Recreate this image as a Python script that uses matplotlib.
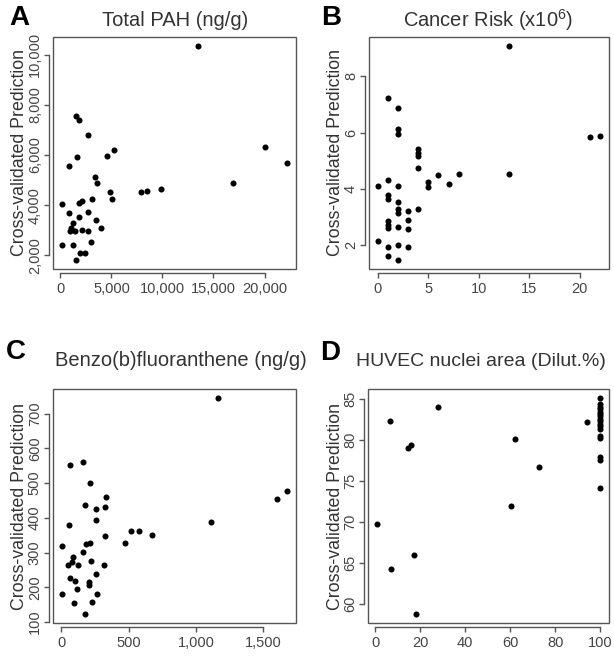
import numpy as np
import matplotlib
matplotlib.use('Agg')
import matplotlib.pyplot as plt
from matplotlib.patches import Rectangle
from matplotlib.ticker import FuncFormatter

plt.rcParams['font.family'] = ['Liberation Sans', 'DejaVu Sans']
plt.rcParams['mathtext.fontset'] = 'custom'
plt.rcParams['mathtext.rm'] = 'Liberation Sans'

# panel A: total PAH
pah_obs = [13500, 1520, 1850, 2750, 880, 1620, 4540, 5220, 3370, 3570, 4830, 5030,
           7910, 8490, 9860, 160, 1850, 2110, 3080, 2660, 810, 1780, 3500, 4020,
           1260, 1040, 970, 1430, 2080, 2750, 2980, 160, 1260, 1880, 2460, 1490,
           16900, 20000, 22200]
pah_pred = [10370, 7560, 7400, 6810, 5570, 5930, 5960, 6210, 5130, 4880, 4510, 4250,
            4510, 4570, 4650, 4030, 4080, 4150, 4230, 3720, 3670, 3520, 3410, 3090,
            3270, 3090, 2970, 2970, 3010, 2960, 2530, 2410, 2400, 2090, 2090, 1790,
            4900, 6330, 5680]

# panel B: cancer risk
risk_obs = [13, 1, 2, 2, 2, 4, 4, 4, 4, 6, 8, 5, 5, 7, 0, 1, 2, 1, 1, 2, 2, 2, 3, 4,
            3, 1, 1, 1, 2, 3, 0, 1, 2, 3, 1, 2, 13, 21, 22]
risk_pred = [9.09, 7.23, 6.89, 6.11, 5.96, 5.41, 5.28, 5.16, 4.75, 4.49, 4.54, 4.24,
             4.05, 4.17, 4.11, 4.33, 4.09, 3.80, 3.63, 3.55, 3.27, 3.15, 3.23, 3.30,
             2.91, 2.85, 2.73, 2.62, 2.65, 2.56, 2.16, 1.95, 2.01, 1.95, 1.62, 1.46,
             4.53, 5.85, 5.87]

# panel C: benzo(b)fluoranthene
bbf_obs = [1163, 1115, 68, 159, 212, 178, 329, 324, 261, 261, 324, 59, 520, 580, 676,
           476, 185, 212, 161, 5, 83, 80, 46, 122, 222, 320, 261, 66, 100, 207, 207,
           120, 7, 263, 95, 227, 178, 1600, 1676]
bbf_pred = [746, 389, 551, 560, 501, 438, 459, 432, 424, 394, 349, 379, 362, 362, 351,
            327, 324, 328, 302, 318, 286, 272, 263, 265, 276, 263, 238, 226, 219, 214,
            206, 196, 182, 181, 155, 158, 122, 453, 476]

# panel D: HUVEC nuclei area
huvec_obs = [6.5, 27.7, 14.5, 16.0, 62.1, 60.4, 72.6, 94.0, 0.7, 6.8, 17.0, 17.9,
             100, 100, 100, 100, 100, 100, 100, 100, 100, 100, 100, 100, 100, 100,
             100, 100, 100]
huvec_pred = [82.3, 84.0, 79.0, 79.4, 80.2, 71.9, 76.7, 82.2, 69.8, 64.3, 65.9, 58.7,
              85.2, 84.4, 84.1, 83.8, 83.5, 83.2, 82.9, 82.6, 82.3, 82.0, 81.7, 81.4,
              80.5, 80.3, 77.9, 77.6, 74.2]

W, H = 614, 671
TXT = '#333333'
LINE = '#555555'

fig = plt.figure(figsize=(W / 100, H / 100), dpi=100)


def px_box(l, r, t, b):
    return [l / W, 1 - b / H, (r - l) / W, (b - t) / H]


def comma(v, p):
    return f'{v:,.0f}'


def panel(box, xs, ys, xticks, yticks, title, letter, title_pos, letter_pos, fmt=None,
          title_size=14.5):
    ax = fig.add_axes(px_box(*box))
    ax.scatter(xs, ys, s=19, color='black', linewidths=0, zorder=3)
    ax.margins(0.04)
    ax.set_xticks(xticks)
    ax.set_yticks(yticks)
    if fmt is not None:
        ax.xaxis.set_major_formatter(FuncFormatter(fmt))
        ax.yaxis.set_major_formatter(FuncFormatter(fmt))
    ax.xaxis.offsetText.set_visible(False)
    ax.yaxis.offsetText.set_visible(False)
    # R style: full box plus offset axis lines
    ax.add_patch(Rectangle((0, 0), 1, 1, transform=ax.transAxes, fill=False,
                           edgecolor=LINE, linewidth=1.0, clip_on=False, zorder=4))
    for s in ['top', 'right']:
        ax.spines[s].set_visible(False)
    for s in ['left', 'bottom']:
        ax.spines[s].set_position(('outward', 3))
        ax.spines[s].set_color(LINE)
        ax.spines[s].set_linewidth(1.0)
    ax.spines['bottom'].set_bounds(xticks[0], xticks[-1])
    ax.spines['left'].set_bounds(yticks[0], yticks[-1])
    ax.tick_params(direction='out', length=3.5, width=1.0, color=LINE,
                   labelsize=10.5, labelcolor='#444444', pad=1.5)
    ax.tick_params(axis='x', pad=3)
    for lab in ax.get_yticklabels():
        lab.set_rotation(90)
        lab.set_va('center')
    l, r, t, b = box
    fig.text((l + r) / 2, 1 - (b + 43) / H, 'Observed', ha='center', va='center',
             fontsize=13.5, color=TXT)
    fig.text((l - 33) / W, 1 - (t + b) / 2 / H, 'Cross-validated Prediction',
             ha='center', va='center', rotation=90, fontsize=12.8, color=TXT)
    fig.text(title_pos[0] / W, 1 - title_pos[1] / H, title, ha='center', va='center',
             fontsize=title_size, color=TXT)
    fig.text(letter_pos[0] / W, 1 - letter_pos[1] / H, letter, ha='center', va='center',
             fontsize=20, fontweight='bold', color='black')
    return ax


panel((53, 296, 37, 269), pah_obs, pah_pred, [0, 5000, 10000, 15000, 20000],
      [2000, 4000, 6000, 8000, 10000], 'Total PAH (ng/g)', 'A', (175, 20), (19, 18), comma)
panel((369, 609, 37, 269), risk_obs, risk_pred, [0, 5, 10, 15, 20], [2, 4, 6, 8],
      'Cancer Risk (x10$^{6}$)', 'B', (488, 20), (331, 18))
panel((53, 296, 389, 623), bbf_obs, bbf_pred, [0, 500, 1000, 1500],
      [100, 200, 300, 400, 500, 600, 700], 'Benzo(b)fluoranthene (ng/g)', 'C',
      (181, 361), (16, 352), comma)
panel((368, 609, 389, 623), huvec_obs, huvec_pred, [0, 20, 40, 60, 80, 100],
      [60, 65, 70, 75, 80, 85], 'HUVEC nuclei area (Dilut.%)', 'D', (481, 361), (330, 353),
      title_size=14)

fig.savefig('out.png', dpi=100)
